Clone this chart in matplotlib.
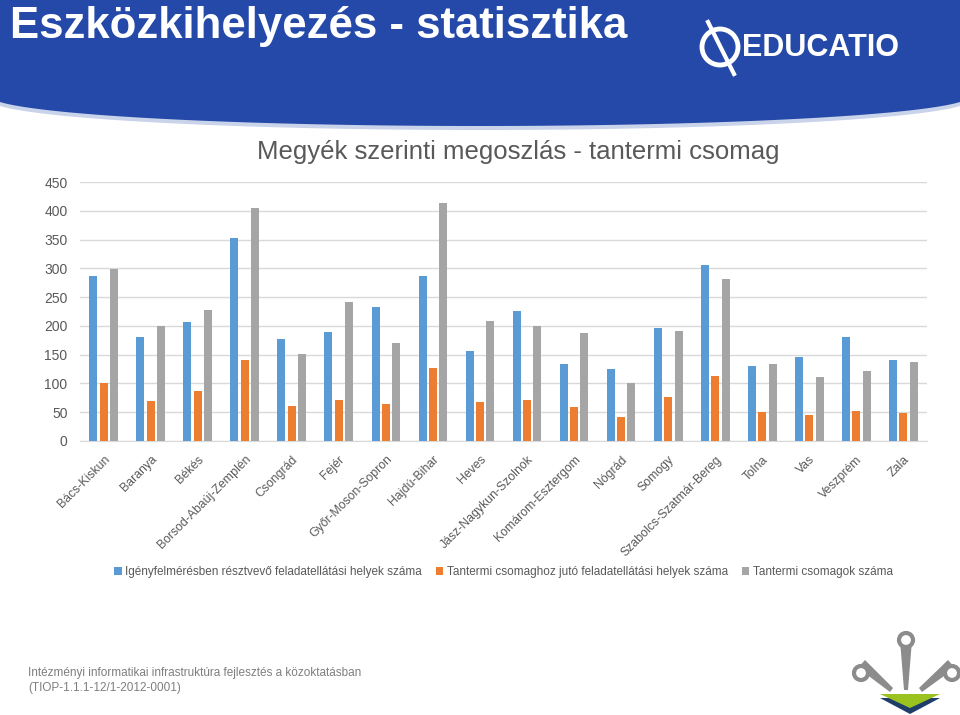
import numpy as np
import matplotlib.pyplot as plt
from matplotlib.patches import Polygon, Circle

plt.rcParams['font.family'] = ['Liberation Sans', 'DejaVu Sans']

counties = ['Bács-Kiskun', 'Baranya', 'Békés', 'Borsod-Abaúj-Zemplén', 'Csongrád',
            'Fejér', 'Győr-Moson-Sopron', 'Hajdú-Bihar', 'Heves',
            'Jász-Nagykun-Szolnok', 'Komárom-Esztergom', 'Nógrád', 'Somogy',
            'Szabolcs-Szatmár-Bereg', 'Tolna', 'Vas', 'Veszprém', 'Zala']
helyek = [286, 181, 207, 353, 178, 190, 233, 286, 157, 226, 134, 125, 196, 305, 131, 146, 181, 140]
jut = [101, 69, 87, 141, 60, 71, 65, 126, 68, 72, 59, 42, 77, 113, 51, 45, 52, 49]
csomag = [299, 199, 227, 404, 151, 242, 170, 413, 208, 199, 187, 101, 191, 282, 134, 111, 121, 137]
series_names = ['Igényfelmérésben résztvevő feladatellátási helyek száma',
                'Tantermi csomaghoz jutó feladatellátási helyek száma',
                'Tantermi csomagok száma']
colors = ['#5B9BD5', '#ED7D31', '#A5A5A5']
txt = '#595959'

fig = plt.figure(figsize=(9.6, 7.15), dpi=100)

# background drawing layer in pixel coordinates
bg = fig.add_axes([0, 0, 1, 1], zorder=0)
bg.set_xlim(0, 960)
bg.set_ylim(715, 0)
bg.axis('off')

xs = np.linspace(0, 960, 200)
curve = 96 + 30 * np.sqrt(np.clip(1 - ((xs - 480) / 490) ** 2, 0, 1))
bg.add_patch(Polygon(np.column_stack([np.r_[xs, 960, 0], np.r_[curve + 4, 0, 0]]),
                     closed=True, color='#C9D3EA', lw=0))
bg.add_patch(Polygon(np.column_stack([np.r_[xs, 960, 0], np.r_[curve, 0, 0]]),
                     closed=True, color='#2549A9', lw=0))
bg.text(10, 38, 'Eszközkihelyezés - statisztika', color='white', fontsize=31.5,
        fontweight='bold', va='baseline', ha='left')

# EDUCATIO logo
bg.add_patch(Circle((720, 47), 18, fill=False, ec='white', lw=3.5))
bg.plot([708, 734], [22, 74], color='white', lw=3)
bg.text(742, 48, 'EDUCATIO', color='white', fontsize=22, fontweight='bold',
        va='center', ha='left')

# footer
bg.text(28, 673, 'Intézményi informatikai infrastruktúra fejlesztés a közoktatásban',
        color='#7F7F7F', fontsize=8.5, va='center', ha='left')
bg.text(28, 688, '(TIOP-1.1.1-12/1-2012-0001)', color='#7F7F7F', fontsize=8.5,
        va='center', ha='left')

# footer logo
gray = '#8C8C8C'
bg.add_patch(Polygon([[900, 640], [912, 640], [908, 690], [904, 690]], color=gray, lw=0))
bg.add_patch(Circle((906, 640), 7, fc='white', ec=gray, lw=3))
bg.add_patch(Polygon([[858, 668], [865, 660], [893, 688], [890, 692]], color=gray, lw=0))
bg.add_patch(Circle((861, 673), 7, fc='white', ec=gray, lw=3))
bg.add_patch(Polygon([[948, 660], [955, 668], [922, 692], [919, 688]], color=gray, lw=0))
bg.add_patch(Circle((952, 673), 7, fc='white', ec=gray, lw=3))
bg.add_patch(Polygon([[880, 698], [940, 698], [910, 714]], color='#1F3D6B', lw=0))
bg.add_patch(Polygon([[880, 694], [940, 694], [910, 708]], color='#9BC31F', lw=0))

# chart
ax = fig.add_axes([80 / 960, 1 - 441 / 715, 847 / 960, 259 / 715], zorder=1)
ax.patch.set_alpha(0)
x = np.arange(len(counties))
w = 0.17
for i, (vals, name, c) in enumerate(zip([helyek, jut, csomag], series_names, colors)):
    ax.bar(x + (i - 1) * 0.22, vals, width=w, color=c, label=name, zorder=3)

ax.set_ylim(0, 450)
ax.set_xlim(-0.5, len(counties) - 0.5)
ax.set_yticks(range(0, 451, 50))
ax.yaxis.grid(True, color='#D9D9D9', lw=1)
ax.set_axisbelow(True)
for s in ['top', 'right', 'left']:
    ax.spines[s].set_visible(False)
ax.spines['bottom'].set_color('#D9D9D9')
ax.tick_params(axis='y', length=0, labelsize=10, labelcolor=txt, pad=9)
ax.tick_params(axis='x', length=0, labelsize=8.8, labelcolor=txt, pad=9)
ax.set_xticks(x)
ax.set_xticklabels(counties, rotation=45, ha='right', rotation_mode='anchor')

fig.text(518 / 960, 1 - 152 / 715, 'Megyék szerinti megoszlás - tantermi csomag',
         ha='center', va='center', fontsize=18.5, color=txt)

ax.legend(loc='center', bbox_to_anchor=(0.5, (441 - 572) / 259), ncol=3, frameon=False,
          fontsize=8.5, labelcolor=txt, handlelength=0.6, handleheight=0.6,
          handletextpad=0.3, columnspacing=1.2)

fig.savefig('out.png', dpi=100)
